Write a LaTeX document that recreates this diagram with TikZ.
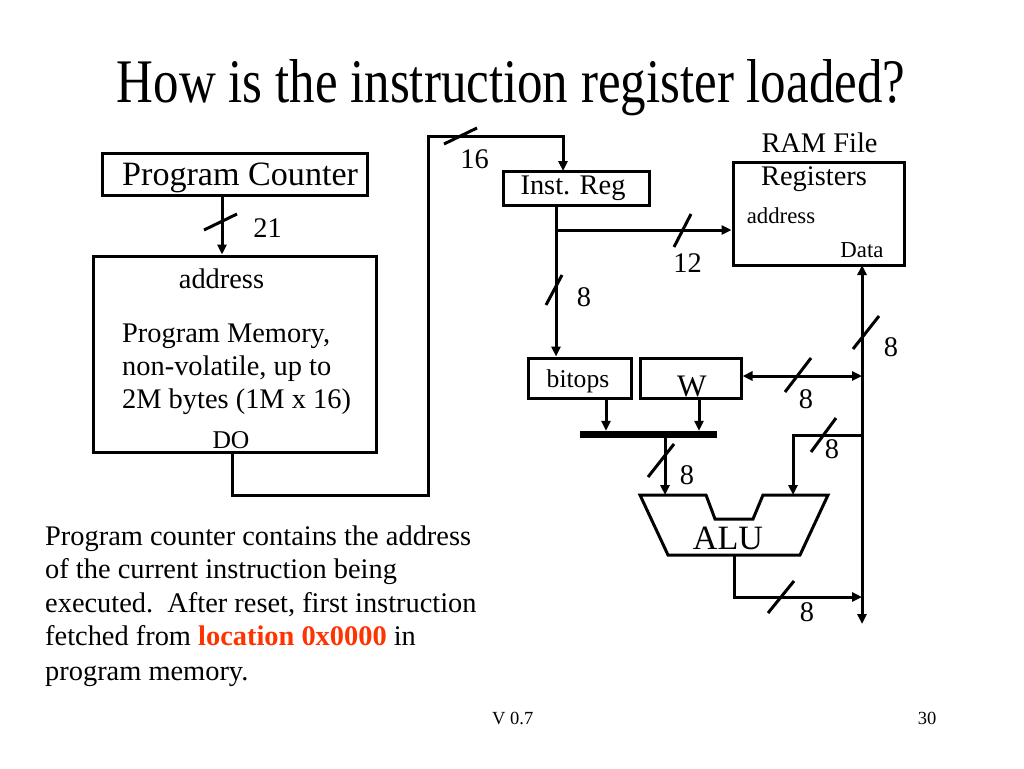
\documentclass[tikz,border=0pt]{standalone}
\usepackage{fontspec}
\setmainfont{Liberation Serif}
\usetikzlibrary{arrows.meta}
\definecolor{hl}{HTML}{FF3300}
\begin{document}
\begin{tikzpicture}[x=1pt,y=-1pt,
  box/.style={draw,line width=3pt,inner sep=0pt},
  wire/.style={line width=3pt},
  arr/.style={wire,-{Triangle[length=10pt,width=9pt]}},
  darr/.style={wire,{Triangle[length=10pt,width=9pt]}-{Triangle[length=10pt,width=9pt]}},
  slash/.style={line width=3pt},
  txt/.style={inner sep=0pt,anchor=base},
  ft28/.style={font=\fontsize{28.4pt}{34pt}\selectfont},
  ft34/.style={font=\fontsize{34.1pt}{40pt}\selectfont},
  ft26/.style={font=\fontsize{25.6pt}{30pt}\selectfont},
  ft23/.style={font=\fontsize{22.8pt}{27pt}\selectfont},
  ft19/.style={font=\fontsize{19.5pt}{23pt}\selectfont},
]
\useasboundingbox (0,0) rectangle (1024,768);

% title
\node[txt] (title) at (511,102) {\fontsize{62pt}{70pt}\selectfont\scalebox{0.822}[1]{How is the instruction register loaded?}};

% boxes
\node[box,minimum width=265pt,minimum height=42pt] (pc) at (234.5,174) {};
\node[box,minimum width=283pt,minimum height=196pt] (pm) at (234.5,354) {};
\node[box,minimum width=146pt,minimum height=34pt] (ir) at (576,188) {};
\node[box,minimum width=171pt,minimum height=103pt] (ram) at (818.5,213.5) {};
\node[box,minimum width=103pt,minimum height=40pt] (bitops) at (579.5,378) {};
\node[box,minimum width=101pt,minimum height=40pt] (w) at (690.5,378) {};
\node[fill,inner sep=0pt,minimum width=137pt,minimum height=7pt] (bar) at (648.5,434.5) {};
\draw[wire,line join=miter] (640,495) coordinate (alutl) -- (706,495) -- (715,519) -- (753,519) -- (763,495) -- (828,495) coordinate (alutr) -- (800,555) coordinate (alubr) -- (668,555) coordinate (alubl) -- cycle;

% texts
\node[txt,ft34,anchor=base west] (pctext) at (122,185) {Program Counter};
\node[txt,ft28] (pmaddr) at (221.5,288) {address};
\node[txt,ft28,anchor=base west] (pm1) at (122,342) {Program Memory,};
\node[txt,ft28,anchor=base west] (pm2) at (122,375) {non-volatile, up to};
\node[txt,ft28,anchor=base west] (pm3) at (122,408) {2M bytes (1M x 16)};
\node[txt,ft26] (do) at (231,448) {DO};
\node[txt,ft28] (irtext) at (573,194) {Inst. Reg};
\node[txt,ft28] (ramfile) at (819.5,152) {RAM File};
\node[txt,ft28] (ramreg) at (814,185) {Registers};
\node[txt,ft23] (ramaddr) at (781,223) {address};
\node[txt,ft23] (ramdata) at (862,257) {Data};
\node[txt,ft26] (bitopstext) at (578,387) {bitops};
\node[txt,font=\fontsize{31.3pt}{36pt}\selectfont] (wtext) at (692,396) {W};
\node[txt,ft34] (alutext) at (728,549) {ALU};

% width labels
\node[txt,ft28] (n21) at (267.5,237) {21};
\node[txt,ft28] (n16) at (474.5,168) {16};
\node[txt,ft28] (n12) at (687.5,272) {12};
\node[txt,ft28] (n8a) at (584,306) {8};
\node[txt,ft28] (n8b) at (891,356) {8};
\node[txt,ft28] (n8c) at (806,408) {8};
\node[txt,ft28] (n8d) at (687,484) {8};
\node[txt,ft28] (n8e) at (832,458) {8};
\node[txt,ft28] (n8f) at (807,621) {8};

% connection points
\coordinate (pcout) at (222,195);
\coordinate (doout) at (232,452);
\coordinate (loopbl) at (428,495);
\coordinate (looptl) at (428,136);
\coordinate (irin) at (563,171);
\coordinate (irout) at (556,205);
\coordinate (irbr) at (556,230);
\coordinate (bustop) at (862,265);
\coordinate (busbot) at (862,624);
\coordinate (buswj) at (862,376);
\coordinate (busbr) at (862,435);
\coordinate (bitout) at (606,398);
\coordinate (wout) at (699,398);
\coordinate (barout) at (665,438);
\coordinate (alul) at (665,495);
\coordinate (alur) at (793,495);
\coordinate (aluout) at (734,555);
\coordinate (aluj) at (862,597);

% connectors
\draw[arr] (pcout) -- (pcout |- pm.north);
\draw[arr] (doout) |- (loopbl) -- (looptl) -| (irin);
\draw[arr] (irout) -- (irout |- bitops.north);
\draw[arr] (irbr) -- (irbr -| ram.west);
\draw[darr] (busbot) -- (bustop);
\draw[darr] (w.east |- buswj) -- (buswj);
\draw[arr] (bitout) -- (bitout |- bar.north);
\draw[arr] (wout) -- (wout |- bar.north);
\draw[arr] (barout) -- (alul);
\draw[arr] (busbr) -| (alur);
\draw[arr] (aluout) |- (aluj);

% bus-width slashes
\draw[slash] (204,230) -- (237,214);
\draw[slash] (444,144) -- (477,128);
\draw[slash] (674,247) -- (691,214);
\draw[slash] (546,305) -- (562,275);
\draw[slash] (853,349) -- (879,316);
\draw[slash] (785,392) -- (811,358);
\draw[slash] (648,477) -- (674,444);
\draw[slash] (811,452) -- (836,418);
\draw[slash] (768,613) -- (794,581);

% paragraph
\node[txt,ft28,anchor=base west] (p1) at (45,545) {Program counter contains the address};
\node[txt,ft28,anchor=base west] (p2) at (45,578) {of the current instruction being};
\node[txt,ft28,anchor=base west] (p3) at (45,612) {executed.\ \ After reset, first instruction};
\node[txt,ft28,anchor=base west] (p4) at (45,645) {fetched from \textcolor{hl}{\textbf{location 0x0000}} in};
\node[txt,ft28,anchor=base west] (p5) at (45,680) {program memory.};

% footer
\node[txt,font=\fontsize{18.5pt}{22pt}\selectfont,anchor=base west] (ver) at (492,724) {V 0.7};
\node[txt,font=\fontsize{18.5pt}{22pt}\selectfont] (page) at (927,724) {30};
\end{tikzpicture}
\end{document}
